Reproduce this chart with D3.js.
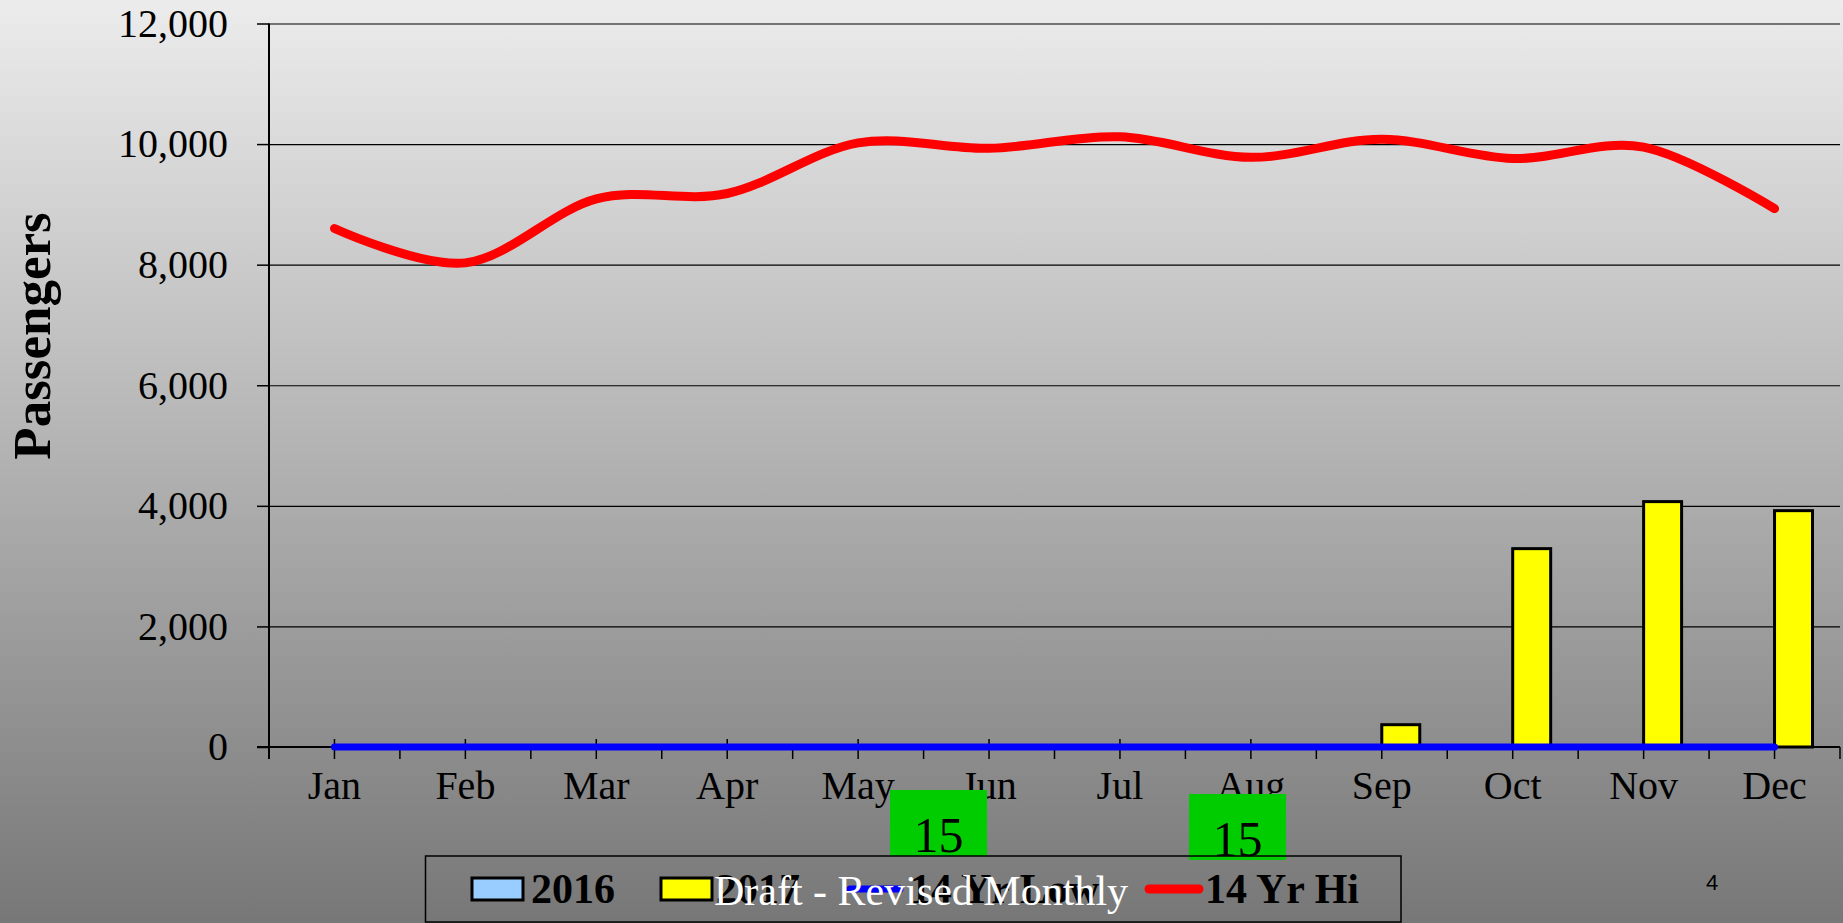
<!DOCTYPE html>
<html lang="en">

<head>
  <meta charset="UTF-8">
  <script src="https://d3js.org/d3.v7.min.js"></script>
  <style>
    html,
    body {
      padding: 0px;
      margin: 0px;
      overflow: hidden;
    }

    svg {
      display: block;
      font-family: "Liberation Serif", "Times New Roman", serif;
    }

    .gridlines .tick line {
      stroke: #000;
      stroke-width: 1.2;
    }

    .gridlines .domain {
      display: none;
    }
  </style>
</head>

<body>
  <svg id="chart-svg" width="1843" height="923"></svg>

  <script>
    // chart data
    const months = ["Jan", "Feb", "Mar", "Apr", "May", "Jun", "Jul", "Aug", "Sep", "Oct", "Nov", "Dec"];
    const pax2016 = [null, null, null, null, null, null, null, null, null, null, null, null];
    const pax2017 = [null, null, null, null, null, null, null, null, 370, 3290, 4070, 3920];
    const low14 = [0, 0, 0, 0, 0, 0, 0, 0, 0, 0, 0, 0];
    const hi14 = [8600, 8030, 9090, 9180, 10020, 9930, 10120, 9780, 10080, 9760, 9950, 8930];
    const yTicks = [0, 2000, 4000, 6000, 8000, 10000, 12000];
    const legendLabels = ["2016", "2017", "14 Yr Low", "14 Yr Hi"];
    const stampLabels = ["15", "15"];

    const svg = d3.select("#chart-svg");
    const width = +svg.attr("width");
    const height = +svg.attr("height");
    const margin = { top: 23.5, right: 3, bottom: 176, left: 269 };

    // background gradient
    const defs = svg.append("defs");
    const grad = defs.append("linearGradient")
      .attr("id", "bg-grad")
      .attr("x1", 0).attr("y1", 0).attr("x2", 0).attr("y2", 1);
    grad.append("stop").attr("offset", "0%").attr("stop-color", "#ececec");
    grad.append("stop").attr("offset", "100%").attr("stop-color", "#777777");
    svg.append("rect")
      .attr("width", width)
      .attr("height", height)
      .attr("fill", "url(#bg-grad)");

    // scales
    const xScale = d3.scaleBand()
      .domain(months)
      .range([margin.left, width - margin.right]);
    const yScale = d3.scaleLinear()
      .domain([0, 12000])
      .range([height - margin.bottom, margin.top]);
    const barWidth = xScale.bandwidth() * 0.29;
    const center = m => xScale(m) + xScale.bandwidth() / 2;

    // gridlines
    svg.append("g")
      .attr("class", "gridlines")
      .attr("transform", `translate(${margin.left}, 0)`)
      .call(d3.axisLeft(yScale).tickValues(yTicks.slice(1)).tickSize(-(width - margin.right - margin.left)).tickFormat(""));

    // y axis
    const leftAxis = d3.axisLeft(yScale)
      .tickValues(yTicks)
      .tickSize(12)
      .tickPadding(29)
      .tickFormat(d3.format(","));
    const yAxisG = svg.append("g")
      .attr("id", "left-axis")
      .attr("transform", `translate(${margin.left}, 0)`)
      .call(leftAxis);
    yAxisG.select(".domain").remove();
    yAxisG.selectAll(".tick line").attr("stroke", "#000").attr("stroke-width", 1.5);
    yAxisG.selectAll(".tick text")
      .attr("fill", "#000")
      .style("font-size", "40px")
      .style("font-family", "'Liberation Serif', serif");
    svg.append("line")
      .attr("x1", margin.left).attr("x2", margin.left)
      .attr("y1", yScale(12000)).attr("y2", yScale(0) + 12)
      .attr("stroke", "#000").attr("stroke-width", 2);

    // x axis
    const bottomAxis = d3.axisBottom(xScale).tickSize(0).tickPadding(24);
    const xAxisG = svg.append("g")
      .attr("id", "bottom-axis")
      .attr("transform", `translate(0, ${yScale(0)})`)
      .call(bottomAxis);
    xAxisG.select(".domain").remove();
    xAxisG.selectAll(".tick text")
      .attr("fill", "#000")
      .style("font-size", "40px")
      .style("font-family", "'Liberation Serif', serif");
    svg.append("line")
      .attr("x1", margin.left - 12).attr("x2", width - margin.right)
      .attr("y1", yScale(0)).attr("y2", yScale(0))
      .attr("stroke", "#000").attr("stroke-width", 2);

    // tick marks at centres and boundaries
    const tickPos = [];
    months.forEach(m => { tickPos.push({ x: center(m), major: true }); tickPos.push({ x: xScale(m) + xScale.bandwidth(), major: false }); });
    svg.append("g").selectAll("line")
      .data(tickPos)
      .join("line")
      .attr("x1", d => d.x).attr("x2", d => d.x)
      .attr("y1", d => yScale(0) - (d.major ? 8 : 0))
      .attr("y2", yScale(0) + 12)
      .attr("stroke", "#000").attr("stroke-width", 1.5);

    // bars
    const barData = [];
    months.forEach((m, i) => {
      if (pax2016[i] != null) barData.push({ m: m, v: pax2016[i], off: -barWidth, fill: "#99ccff" });
      if (pax2017[i] != null) barData.push({ m: m, v: pax2017[i], off: 0, fill: "#ffff00" });
    });
    svg.append("g").selectAll("rect")
      .data(barData)
      .join("rect")
      .attr("x", d => center(d.m) + d.off)
      .attr("y", d => yScale(d.v))
      .attr("width", barWidth)
      .attr("height", d => yScale(0) - yScale(d.v))
      .attr("fill", d => d.fill)
      .attr("stroke", "#000")
      .attr("stroke-width", 3);

    // lines
    const lowLine = d3.line().x((d, i) => center(months[i])).y(d => yScale(d));
    const hiLine = d3.line().x((d, i) => center(months[i])).y(d => yScale(d)).curve(d3.curveCardinal.tension(0));
    svg.append("path")
      .datum(low14)
      .attr("d", lowLine)
      .attr("fill", "none")
      .attr("stroke", "#0000ff")
      .attr("stroke-width", 7)
      .attr("stroke-linecap", "round");
    svg.append("path")
      .datum(hi14)
      .attr("d", hiLine)
      .attr("fill", "none")
      .attr("stroke", "#ff0000")
      .attr("stroke-width", 9)
      .attr("stroke-linecap", "round");

    // y axis title
    svg.append("text")
      .attr("transform", "translate(50, 336) rotate(-90)")
      .attr("text-anchor", "middle")
      .style("font-size", "53px")
      .style("font-weight", "bold")
      .text("Passengers");

    // green stamps
    const stampX = [890, 1189];
    const stampY = [790, 794];
    const stamps = svg.append("g").selectAll("g")
      .data(stampLabels)
      .join("g")
      .attr("transform", (d, i) => `translate(${stampX[i]}, ${stampY[i]})`);
    stamps.append("rect")
      .attr("width", 97)
      .attr("height", 66)
      .attr("fill", "#00cc00");
    stamps.append("text")
      .attr("x", 48.5)
      .attr("y", 62)
      .attr("text-anchor", "middle")
      .style("font-size", "50px")
      .text(d => d);

    // legend
    const legend = svg.append("g").attr("id", "legend");
    legend.append("rect")
      .attr("x", 425.5).attr("y", 856)
      .attr("width", 975.5).attr("height", 66)
      .attr("fill", "none")
      .attr("stroke", "#000")
      .attr("stroke-width", 1.5);
    const legendX = [472, 661, 846, 1145];
    const legendTextX = [531, 716, 910, 1205];
    legendLabels.forEach((lab, i) => {
      if (i < 2) {
        legend.append("rect")
          .attr("x", legendX[i]).attr("y", 878)
          .attr("width", 51).attr("height", 22)
          .attr("fill", i === 0 ? "#99ccff" : "#ffff00")
          .attr("stroke", "#000").attr("stroke-width", 3);
      } else {
        legend.append("line")
          .attr("x1", legendX[i] + 4).attr("x2", legendX[i] + 54)
          .attr("y1", 889).attr("y2", 889)
          .attr("stroke", i === 2 ? "#0000ff" : "#ff0000")
          .attr("stroke-width", i === 2 ? 7 : 9)
          .attr("stroke-linecap", "round");
      }
      legend.append("text")
        .attr("x", legendTextX[i]).attr("y", 903)
        .style("font-size", "42px")
        .style("font-weight", "bold")
        .text(lab);
    });

    // watermark text
    svg.append("text")
      .attr("x", 921).attr("y", 905)
      .attr("text-anchor", "middle")
      .attr("fill", "#fff")
      .style("font-size", "42px")
      .text("Draft - Revised Monthly");

    // page number
    svg.append("text")
      .attr("x", 1712).attr("y", 890)
      .attr("text-anchor", "middle")
      .style("font-size", "22px")
      .style("font-family", "'Liberation Sans', Arial, sans-serif")
      .text("4");
  </script>
</body>

</html>
